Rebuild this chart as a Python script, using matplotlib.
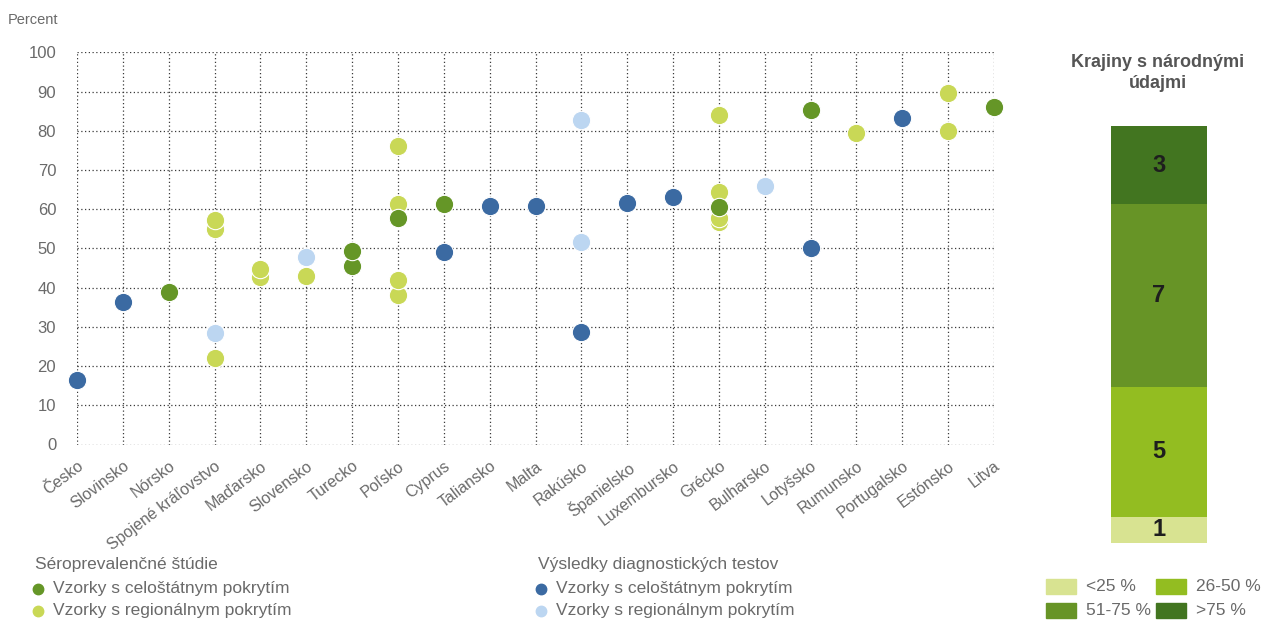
import matplotlib
matplotlib.use("Agg")
import matplotlib.pyplot as plt
from matplotlib.patches import Rectangle
from matplotlib.lines import Line2D

plt.rcParams['font.family'] = ['Liberation Sans', 'DejaVu Sans']

# ---------------- data ----------------
countries = ["Česko", "Slovinsko", "Nórsko", "Spojené kráľovstvo", "Maďarsko",
             "Slovensko", "Turecko", "Poľsko", "Cyprus", "Taliansko", "Malta",
             "Rakúsko", "Španielsko", "Luxembursko", "Grécko", "Bulharsko",
             "Lotyšsko", "Rumunsko", "Portugalsko", "Estónsko", "Litva"]

# Séroprevalenčné štúdie – vzorky s celoštátnym pokrytím
sero_nat_countries = ["Nórsko", "Turecko", "Turecko", "Poľsko", "Cyprus",
                      "Grécko", "Lotyšsko", "Litva"]
sero_nat_values = [38.9, 45.6, 49.4, 57.8, 61.4, 60.6, 85.3, 86.0]

# Séroprevalenčné štúdie – vzorky s regionálnym pokrytím
sero_reg_countries = ["Spojené kráľovstvo", "Spojené kráľovstvo", "Spojené kráľovstvo",
                      "Maďarsko", "Maďarsko", "Slovensko",
                      "Poľsko", "Poľsko", "Poľsko", "Poľsko",
                      "Grécko", "Grécko", "Grécko", "Grécko",
                      "Rumunsko", "Estónsko", "Estónsko"]
sero_reg_values = [22.1, 55.0, 57.2,
                   42.8, 44.7, 43.0,
                   38.1, 42.0, 61.3, 76.1,
                   56.8, 57.7, 64.3, 83.9,
                   79.5, 80.0, 89.7]

# Výsledky diagnostických testov – vzorky s celoštátnym pokrytím
diag_nat_countries = ["Česko", "Slovinsko", "Cyprus", "Taliansko", "Malta",
                      "Rakúsko", "Španielsko", "Luxembursko", "Lotyšsko", "Portugalsko"]
diag_nat_values = [16.5, 36.4, 49.0, 60.8, 60.9, 28.6, 61.5, 63.1, 50.0, 83.3]

# Výsledky diagnostických testov – vzorky s regionálnym pokrytím
diag_reg_countries = ["Spojené kráľovstvo", "Slovensko", "Rakúsko", "Rakúsko", "Bulharsko"]
diag_reg_values = [28.4, 47.9, 51.7, 82.8, 65.8]

# Krajiny s národnými údajmi
bins_labels = ["<25 %", "26-50 %", "51-75 %", ">75 %"]
bins_counts = [1, 5, 7, 3]

# ---------------- styles ----------------
C_SERO_NAT = "#659627"
C_SERO_REG = "#c9d856"
C_DIAG_NAT = "#3b6aa2"
C_DIAG_REG = "#bcd6f1"
BIN_COLORS = ["#d8e391", "#93bd21", "#679426", "#427520"]
TXT = "#6a6a6a"

W, H = 1266, 621
fig = plt.figure(figsize=(W / 100, H / 100), dpi=100)

# main scatter axes
x0, x1 = 77, 994
ytop, ybot = 52.3, 444.5
ax = fig.add_axes([x0 / W, 1 - ybot / H, (x1 - x0) / W, (ybot - ytop) / H])
ax.set_xlim(0, len(countries) - 1)
ax.set_ylim(0, 100)
for s in ax.spines.values():
    s.set_visible(False)
ax.set_yticks(range(0, 101, 10))
ax.set_xticks(range(len(countries)))
ax.grid(True, color="#3a3a3a", linestyle=(0, (1, 2)), linewidth=0.9)
ax.set_axisbelow(True)
ax.tick_params(axis="both", length=0, labelcolor=TXT)
ax.tick_params(axis="y", labelsize=12, pad=15)
ax.set_xticklabels(countries, rotation=37, ha="right", rotation_mode="anchor",
                   fontsize=11.5, color=TXT)
ax.tick_params(axis="x", pad=10)

idx = {c: i for i, c in enumerate(countries)}

def plot_series(cs, vs, color):
    pairs = sorted(zip(cs, vs), key=lambda p: p[1])
    ax.scatter([idx[c] for c, v in pairs], [v for c, v in pairs], s=175,
               color=color, edgecolors="white", linewidths=0.8, zorder=3,
               clip_on=False)

plot_series(diag_reg_countries, diag_reg_values, C_DIAG_REG)
plot_series(diag_nat_countries, diag_nat_values, C_DIAG_NAT)
plot_series(sero_reg_countries, sero_reg_values, C_SERO_REG)
plot_series(sero_nat_countries, sero_nat_values, C_SERO_NAT)

fig.text(8 / W, 1 - 20 / H, "Percent", fontsize=10.5, color=TXT, va="center", ha="left")

# bottom legends
def legend_group(xm, title, items):
    fig.text(xm - 3 / W, 1 - 565 / H, title, fontsize=12.5, color=TXT, va="center", ha="left")
    for k, (lab, col) in enumerate(items):
        yy = 1 - (589 + 22 * k) / H
        fig.add_artist(Line2D([xm], [yy], marker="o", markersize=7.5,
                              color=col, linestyle="none", transform=fig.transFigure))
        fig.text(xm + 15 / W, yy, lab, fontsize=12.5, color=TXT, va="center", ha="left")

legend_group(38 / W, "Séroprevalenčné štúdie",
             [("Vzorky s celoštátnym pokrytím", C_SERO_NAT),
              ("Vzorky s regionálnym pokrytím", C_SERO_REG)])
legend_group(541 / W, "Výsledky diagnostických testov",
             [("Vzorky s celoštátnym pokrytím", C_DIAG_NAT),
              ("Vzorky s regionálnym pokrytím", C_DIAG_REG)])

# stacked bar on the right
bx0, bx1, bt, bb = 1111, 1207, 126, 543
bax = fig.add_axes([bx0 / W, 1 - bb / H, (bx1 - bx0) / W, (bb - bt) / H])
bax.set_xlim(0, 1)
bax.set_ylim(0, sum(bins_counts))
bax.axis("off")
bottom = 0
for cnt, col in zip(bins_counts, BIN_COLORS):
    bax.bar(0.5, cnt, bottom=bottom, width=1.0, color=col, linewidth=0)
    bax.text(0.5, bottom + cnt / 2, str(cnt), ha="center", va="center",
             fontsize=17, fontweight="bold", color="#1e1e1e")
    bottom += cnt

fig.text(1158 / W, 1 - 73 / H, "Krajiny s národnými\núdajmi", ha="center", va="center",
         fontsize=13, fontweight="bold", color="#555555", linespacing=1.3)

# bin legend
positions = [(1046, 579), (1156, 579), (1046, 603), (1156, 603)]
for (px, py), lab, col in zip(positions, bins_labels, BIN_COLORS):
    fig.add_artist(Rectangle((px / W, 1 - (py + 15) / H), 30 / W, 15 / H,
                             color=col, transform=fig.transFigure))
    fig.text((px + 40) / W, 1 - (py + 7.5) / H, lab, fontsize=12.5, color=TXT,
             va="center", ha="left")

fig.savefig("out.png", dpi=100)
